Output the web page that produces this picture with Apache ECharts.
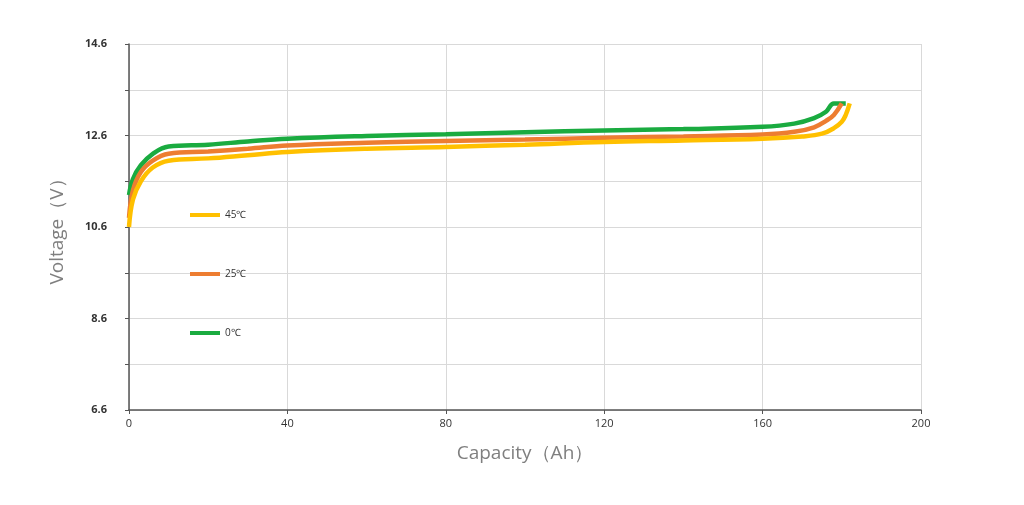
<!DOCTYPE html><html><head><meta charset="utf-8"><script src="https://cdn.jsdelivr.net/npm/echarts@6/dist/echarts.min.js"></script></head><body style="margin:0;background:#fff"><div id="c" style="width:1024px;height:505px"></div><script>
const names=['45℃','25℃','0℃'];
const colors=['#FFC000','#ED7D31','#1AAB40'];
const s45=[[0,10.6],[1,11.2],[3,11.6],[6,11.9],[10,12.05],[20,12.1],[30,12.17],[40,12.24],[60,12.31],[80,12.35],[100,12.4],[120,12.46],[140,12.49],[160,12.53],[170,12.58],[175,12.64],[178,12.76],[180,12.9],[181,13.05],[182,13.3]];
const s25=[[0,10.8],[1,11.4],[3,11.8],[6,12.05],[10,12.2],[20,12.25],[30,12.31],[40,12.38],[60,12.44],[80,12.48],[100,12.51],[120,12.55],[140,12.58],[160,12.62],[168,12.68],[173,12.78],[176,12.92],[178,13.05],[180,13.3]];
const s0=[[0,11.3],[1,11.65],[3,11.95],[6,12.2],[10,12.36],[20,12.4],[30,12.47],[40,12.53],[60,12.59],[80,12.63],[100,12.67],[120,12.71],[140,12.74],[160,12.79],[168,12.86],[173,12.98],[176,13.12],[178,13.3],[181,13.3]];
const series=[s45,s25,s0].map((d,i)=>({name:names[i],type:'line',data:d,smooth:0.4,symbol:'none',lineStyle:{width:4.5,color:colors[i]},itemStyle:{color:colors[i]},z:3-i}));
const ch=echarts.init(document.getElementById('c'));
ch.setOption({animation:false,
grid:{left:129,right:103,top:44,bottom:95},
legend:{orient:'vertical',left:185,top:205,itemWidth:30,itemHeight:4,itemGap:49,icon:'rect',textStyle:{fontSize:10,color:'#333',fontFamily:'Open Sans'},data:names},
xAxis:{type:'value',min:0,max:200,interval:40,name:'Capacity（Ah）',nameLocation:'middle',nameGap:34,nameTextStyle:{fontSize:19,color:'#7f7f7f',fontFamily:'Open Sans'},
axisLine:{show:true,lineStyle:{color:'#555',width:1.5}},axisTick:{show:true,length:4,lineStyle:{color:'#555'}},axisLabel:{fontSize:11,color:'#333',fontFamily:'Open Sans'},splitLine:{lineStyle:{color:'#d9d9d9'}}},
yAxis:{type:'value',min:6.6,max:14.6,interval:1,name:'Voltage（V）',nameLocation:'middle',nameGap:62,nameTextStyle:{fontSize:19,color:'#7f7f7f',fontFamily:'Open Sans'},
axisLine:{show:true,lineStyle:{color:'#555',width:1.5}},axisTick:{show:true,length:4,inside:false,lineStyle:{color:'#555'}},
axisLabel:{fontSize:11,color:'#333',fontWeight:'bold',fontFamily:'Open Sans',margin:22,formatter:v=>{const k=Math.round((v-6.6)*10);return k%20===0?v.toFixed(1):'';}},splitLine:{lineStyle:{color:'#d9d9d9'}}},
series});
</script></body></html>
